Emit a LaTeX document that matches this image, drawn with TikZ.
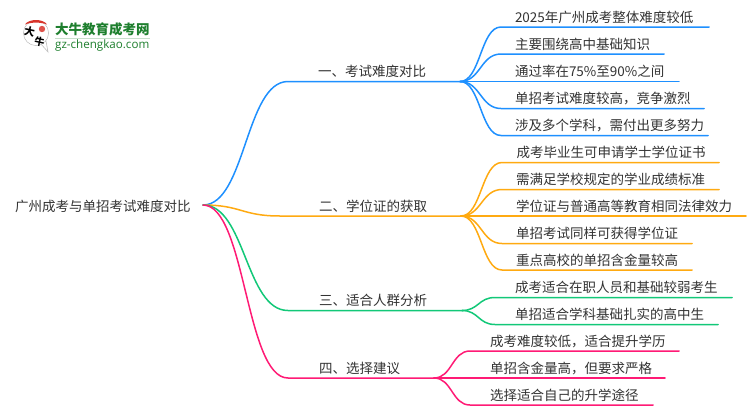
\documentclass[tikz,border=0pt]{standalone}
\usepackage{fontspec}
\usetikzlibrary{calc}
\setmainfont{Noto Sans CJK SC}
\newfontfamily\logolat{Open Sans}
\definecolor{cA}{HTML}{1E90FF}
\definecolor{cB}{HTML}{FFAA11}
\definecolor{cC}{HTML}{12C878}
\definecolor{cD}{HTML}{FF1A75}
\definecolor{ink}{HTML}{333333}
\definecolor{logog}{HTML}{1E7F2E}
\definecolor{logor}{HTML}{D8342A}
\tikzset{
  x=1pt,y=-1pt,
  txt/.style={anchor=west,inner sep=0pt,outer sep=0pt,text=ink,font=\fontsize{13.5}{15}\selectfont},
  wire/.style={line width=1.5pt,line cap=round}
}
% name, colour, start node, curve end x, line y, line end x, text x, text
\newcommand{\curveitem}[8]{%
  \node[txt] (#1) at (#7,#5-10) {#8};
  \coordinate (#1a) at (#4,#5);
  \coordinate (#1b) at (#6,#5);
  \draw[wire,#2] (#3) .. controls ($(#3)!0.5!(#1a |- #3)$) and ($(#3 |- #1a)!0.5!(#1a)$) .. (#1a) -- (#1b);
}
\begin{document}
\begin{tikzpicture}
\useasboundingbox (0,0) rectangle (750,410);
\fill[white] (0,0) rectangle (750,410);
% logo
\fill[white,draw=black!25,line width=0.6pt] (36,33) circle (12.5);
\fill[white,draw=black!25,line width=0.6pt] (41,44) -- (48,52) -- (46,41) -- cycle;
\fill[white] (36,33) circle (12);
\fill[logor] (25,24.5) .. controls (29,18.5) and (43,18.5) .. (47,24.5) .. controls (41,22) and (31,22) .. (25,24.5) -- cycle;
\fill[logor!85] (42,29) circle (3.2);
\node[inner sep=0pt,font=\fontsize{10.5}{11}\selectfont\bfseries,text=black,rotate=-12] (logoa) at (29.5,31.5) {大};
\node[inner sep=0pt,font=\fontsize{10}{10}\selectfont\bfseries,text=black,rotate=-12] (logob) at (39.5,41.5) {牛};
\node[inner sep=0pt,anchor=west,font=\fontsize{13.5}{14}\selectfont\bfseries,text=logog] (logot) at (55,29) {大牛教育成考网};
\fill[logog!25] (55,38) rectangle (150,39);
\node[inner sep=0pt,anchor=west,font=\logolat\fontsize{11.6}{12}\selectfont,text=logog] (logou) at (55,45.5) {gz-chengkao.com};
% root
\node[txt] (root) at (15,206) {广州成考与单招考试难度对比};
\coordinate (o) at (203,205);
% branches
\curveitem{ba}{cA}{o}{288}{81.5}{462}{318}{一、考试难度对比}
\curveitem{bb}{cB}{o}{280}{216}{463}{319}{二、学位证的获取}
\curveitem{bc}{cC}{o}{288}{310.5}{463}{319}{三、适合人群分析}
\curveitem{bd}{cD}{o}{288}{378}{435}{319}{四、选择建议}
% leaves
\coordinate (ja) at (460,81.5);
\coordinate (jb) at (461,216);
\coordinate (jc) at (462,310.5);
\coordinate (jd) at (434,378);
\curveitem{a1}{cA}{ja}{501}{27}{709}{515}{2025年广州成考整体难度较低}
\curveitem{a2}{cA}{ja}{501}{54}{664}{515}{主要围绕高中基础知识}
\curveitem{a3}{cA}{ja}{501}{81.5}{679}{515}{通过率在75\%至90\%之间}
\curveitem{a4}{cA}{ja}{501}{108.5}{704}{515}{单招考试难度较高，竞争激烈}
\curveitem{a5}{cA}{ja}{501}{135.5}{708}{515}{涉及多个学科，需付出更多努力}
\curveitem{b1}{cB}{jb}{502}{162.5}{719}{516.5}{成考毕业生可申请学士学位证书}
\curveitem{b2}{cB}{jb}{502}{189.5}{719}{516}{需满足学校规定的学业成绩标准}
\curveitem{b3}{cB}{jb}{502}{216}{746}{516}{学位证与普通高等教育相同法律效力}
\curveitem{b4}{cB}{jb}{502}{243.5}{692}{516}{单招考试同样可获得学位证}
\curveitem{b5}{cB}{jb}{502}{270}{692}{516}{重点高校的单招含金量较高}
\curveitem{c1}{cC}{jc}{495}{297.5}{732}{515}{成考适合在职人员和基础较弱考生}
\curveitem{c2}{cC}{jc}{495}{324.5}{718}{515}{单招适合学科基础扎实的高中生}
\curveitem{d1}{cD}{jd}{470}{351}{679}{490}{成考难度较低，适合提升学历}
\curveitem{d2}{cD}{jd}{470}{378}{665}{490}{单招含金量高，但要求严格}
\curveitem{d3}{cD}{jd}{470}{405}{653}{490}{选择适合自己的升学途径}
\end{tikzpicture}
\end{document}
